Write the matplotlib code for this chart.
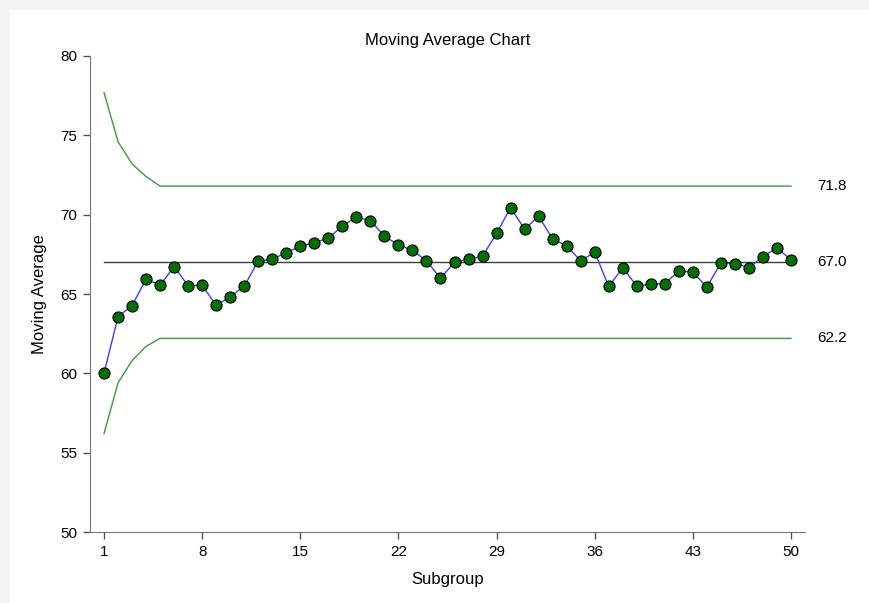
import matplotlib.pyplot as plt
import matplotlib.patches as patches

plt.rcParams['font.family'] = ['Liberation Sans', 'DejaVu Sans']

subgroup = list(range(1, 51))
moving_avg = [60.0, 63.58, 64.26, 65.95, 65.55, 66.73, 65.52, 65.55, 64.28, 64.83,
              65.48, 67.09, 67.19, 67.61, 68.01, 68.23, 68.52, 69.28, 69.85, 69.62,
              68.65, 68.08, 67.76, 67.09, 65.99, 67.0, 67.19, 67.38, 68.82, 70.44,
              69.09, 69.89, 68.48, 68.04, 67.09, 67.63, 65.48, 66.65, 65.5, 65.63,
              65.65, 66.46, 66.37, 65.44, 66.96, 66.92, 66.66, 67.36, 67.91, 67.15]

center = 67.0
limit_x = [1, 2, 3, 4, 5, 50]
ucl = [77.7, 74.6, 73.2, 72.4, 71.8, 71.8]
lcl = [56.2, 59.4, 60.8, 61.7, 62.2, 62.2]

xticks = [1, 8, 15, 22, 29, 36, 43, 50]
yticks = [50, 55, 60, 65, 70, 75, 80]

fig = plt.figure(figsize=(8.7, 6.03), dpi=100)
fig.patch.set_facecolor('#f4f4f4')
# white panel with thin grey band on top and left
fig.add_artist(patches.Rectangle((10/870, 0), 1, 1 - 10/603, transform=fig.transFigure,
                                 facecolor='white', edgecolor='none', zorder=0))

ax = fig.add_axes([90/870, 1 - 532/603, 715/870, 476/603])
ax.set_facecolor('none')

ax.plot(limit_x, ucl, color='#3a9a3a', lw=1)
ax.plot(limit_x, lcl, color='#3a9a3a', lw=1)
ax.plot([1, 50], [center, center], color='#404040', lw=1)
ax.plot(subgroup, moving_avg, color='#3c3cff', lw=1, marker='o', markersize=8,
        markerfacecolor='#007000', markeredgecolor='black', markeredgewidth=0.8, zorder=3)

for val in [ucl[-1], center, lcl[-1]]:
    ax.annotate(f'{val:.1f}', xy=(50, val), xytext=(19, 0), textcoords='offset points',
                fontsize=11, va='center', ha='left')

ax.set_xlim(0, 51)
ax.set_ylim(50, 80)
ax.set_xticks(xticks)
ax.set_yticks(yticks)
ax.tick_params(labelsize=11, length=5, width=1, color='#555555', pad=4)

for s in ['top', 'right']:
    ax.spines[s].set_visible(False)
for s in ['left', 'bottom']:
    ax.spines[s].set_color('#777777')

ax.set_title('Moving Average Chart', fontsize=12, pad=8)
ax.set_xlabel('Subgroup', fontsize=12, labelpad=10)
ax.set_ylabel('Moving Average', fontsize=12, labelpad=10)

fig.savefig('out.png', dpi=100)
